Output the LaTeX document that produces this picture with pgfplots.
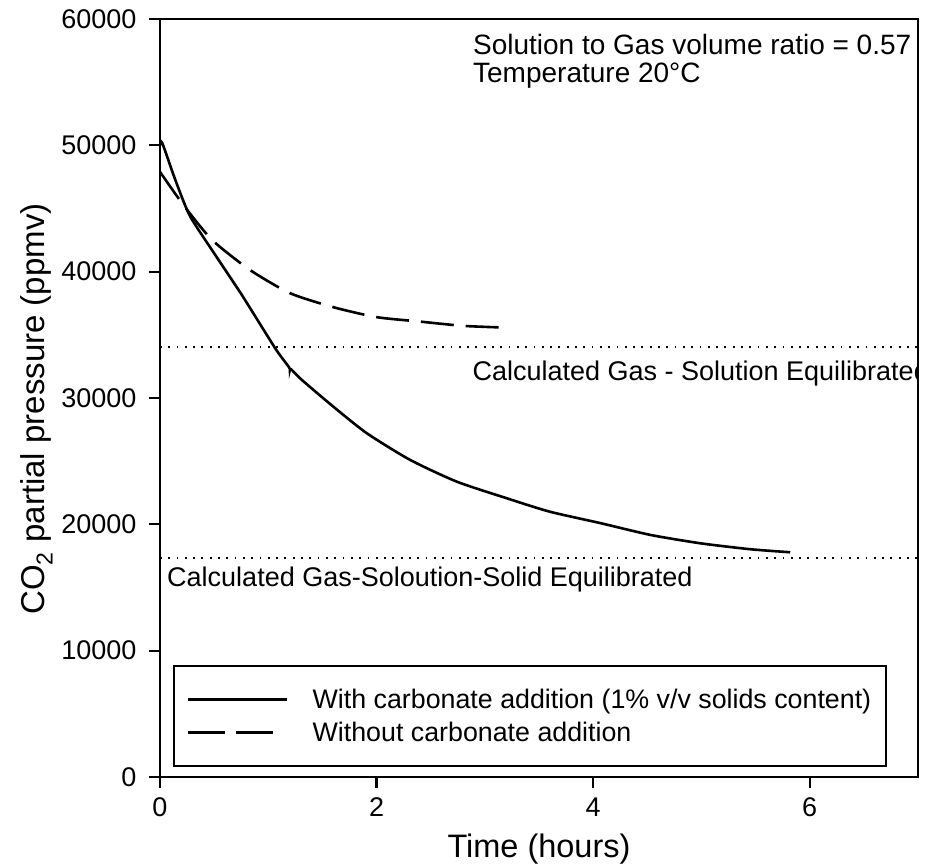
\documentclass[border=0pt]{standalone}
\usepackage{fontspec}
\setmainfont{Liberation Sans}
\usepackage{pgfplots}
\pgfplotsset{compat=1.18}
\pgfplotsset{
  solidlegend/.style={legend image code/.code={\draw[##1] (0pt,0pt) -- (99pt,0pt);}},
  dashlegend/.style={legend image code/.code={\draw[##1, dash pattern=on 37pt off 11pt] (0pt,0pt) -- (86pt,0pt);}},
}

\begin{document}
\begin{tikzpicture}
\begin{axis}[
  scale only axis,
  width=758pt, height=758pt,
  xmin=0, xmax=7, ymin=0, ymax=60000,
  xtick={0,2,4,6}, ytick={0,10000,20000,30000,40000,50000,60000},
  scaled y ticks=false,
  /pgf/number format/assume math mode=true,
  /pgf/number format/1000 sep={},
  tick align=outside, xtick pos=bottom, ytick pos=left,
  major tick length=11pt,
  axis line style={line width=2.4pt},
  every tick/.style={line width=2.2pt, black},
  tick label style={font=\fontsize{27}{32}\selectfont},
  yticklabel style={xshift=-9pt},
  xticklabel style={yshift=-6pt},
  xlabel={Time (hours)},
  ylabel={CO\textsubscript{2} partial pressure (ppmv)},
  xlabel style={font=\fontsize{32.5}{38}\selectfont, yshift=-10pt},
  ylabel style={font=\fontsize{33}{38}\selectfont, xshift=-11pt, yshift=2pt},
  legend cell align=left,
  legend style={at={(rel axis cs:0.0172,0.0132)}, anchor=south west,
    draw=black, line width=2pt, inner xsep=13pt, inner ysep=21pt,
    row sep=8pt, column sep=22pt,
    nodes={inner sep=2pt, font=\fontsize{26.8}{32}\selectfont}},
]
% calculated equilibrium levels
\addplot[black, line width=2pt, dash pattern=on 1.8pt off 6.5pt, forget plot]
  coordinates {(0,34000) (7,34000)};
\addplot[black, line width=2pt, dash pattern=on 1.8pt off 6.5pt, forget plot]
  coordinates {(0,17300) (7,17300)};

% with carbonate addition
\addplot[black, line width=2.6pt, smooth, tension=0.4, solidlegend] coordinates {
  (0,50000) (0.02,50200) (0.14,47300) (0.277,44400) (0.52,41200)
  (0.76,38100) (1.063,33950) (1.19,32450) (1.20,32250) (1.21,32280)
  (1.31,31430) (1.6,29320) (1.91,27210) (2.31,25100) (2.74,23380)
  (3.2,22070) (3.6,21000) (4.07,20090) (4.53,19160) (4.99,18500)
  (5.45,18030) (5.82,17790)};
\addlegendentry{With carbonate addition (1\% v/v solids content)}

% without carbonate addition
\addplot[black, line width=2.6pt, smooth, tension=0.4,
  dash pattern=on 33pt off 12pt, dashlegend]
  coordinates {
  (0,47900) (0.215,45290) (0.48,42520) (0.83,40140) (1.2,38300)
  (1.6,37190) (2.0,36400) (2.4,36050) (2.8,35710) (3.2,35570)};
\addlegendentry{Without carbonate addition}

\node[anchor=base west, font=\fontsize{28}{32}\selectfont, inner sep=0pt]
  at (axis cs:2.89,57170) {Solution to Gas volume ratio = 0.57};
\node[anchor=base west, font=\fontsize{28}{32}\selectfont, inner sep=0pt]
  at (axis cs:2.89,54950) {Temperature 20°C};
\node[anchor=west, font=\fontsize{27}{32}\selectfont, inner sep=0pt]
  at (axis cs:2.885,31900) {Calculated Gas - Solution Equilibrated};
\node[anchor=west, font=\fontsize{27}{32}\selectfont, inner sep=0pt]
  at (axis cs:0.065,15600) {Calculated Gas-Soloution-Solid Equilibrated};
\end{axis}
\pgfresetboundingbox
\path[use as bounding box] (current axis.south west) ++(-160pt,-90pt) rectangle ++(932pt,867pt);
\end{tikzpicture}
\end{document}
